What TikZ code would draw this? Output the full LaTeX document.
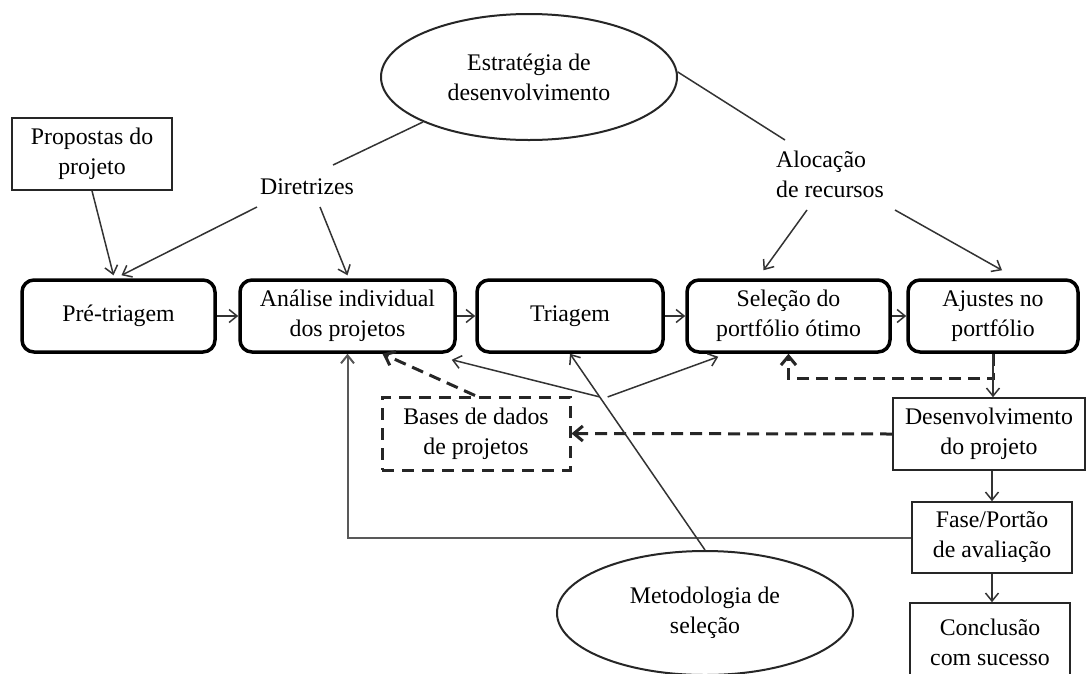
\documentclass[tikz,border=0pt]{standalone}
\usepackage{fontspec}
\setmainfont{Liberation Serif}
\usetikzlibrary{arrows.meta,shapes.geometric,calc}

\begin{document}
\begin{tikzpicture}[x=1pt,y=-1pt,
  every node/.style={font=\fontsize{23.8}{30}\selectfont, align=center, text=black},
  stage/.style={draw=black, line width=3.5pt, rounded corners=12pt, minimum height=72pt, inner sep=0pt},
  plainbox/.style={draw=black!85, line width=1.6pt, minimum height=72pt, inner sep=0pt},
  dbox/.style={draw=black!85, line width=3pt, dash pattern=on 12pt off 8pt, minimum width=188pt, minimum height=73pt, inner sep=0pt},
  oval/.style={ellipse, draw=black!85, line width=2pt, minimum width=296pt, minimum height=126pt, inner sep=0pt},
  lbl/.style={inner sep=2pt},
  link/.style={draw=black!80, line width=1.5pt},
  arr/.style={link, -{Straight Barb[length=8pt,width=13pt]}},
  darr/.style={draw=black!85, line width=3pt, dash pattern=on 12pt off 7pt, -{Straight Barb[length=9pt,width=15pt]}},
]
\useasboundingbox (0,0) rectangle (1087,673);
\clip (0,0) rectangle (1087,673);
\fill[white] (0,0) rectangle (1087,673);

% main process row
\node[stage, minimum width=193pt] (pre) at (118.5,316) {Pré-triagem};
\node[stage, minimum width=215pt] (ana) at (347.5,316) {Análise individual\\dos projetos};
\node[stage, minimum width=186pt] (tri) at (570,316) {Triagem};
\node[stage, minimum width=203pt] (sel) at (788.5,316) {Seleção do\\portfólio ótimo};
\node[stage, minimum width=170pt] (aju) at (993,316) {Ajustes no\\portfólio};

% other boxes
\node[plainbox, minimum width=160pt] (prop) at (92,154) {Propostas do\\projeto};
\node[dbox] (bases) at (476,433.5) {Bases de dados\\de projetos};
\node[plainbox, minimum width=192pt] (dev) at (989,434) {Desenvolvimento\\do projeto};
\node[plainbox, minimum width=160pt, minimum height=71pt] (fase) at (992,537.5) {Fase/Portão\\de avaliação};
\node[plainbox, minimum width=160pt, minimum height=78pt] (conc) at (990,642) {Conclusão\\com sucesso};

% ellipses and free labels
\node[oval] (est) at (529,77) {Estratégia de\\desenvolvimento};
\node[oval, minimum height=124pt] (met) at (705,613) {Metodologia de\\seleção};
\node[lbl] (dir) at (307,187) {Diretrizes};
\node[lbl, align=left] (aloc) at (830,174) {Alocação\\de recursos};

% strategy to its two outputs
\draw[link] (est.203) -- ($(dir.center)+(26,-22)$);
\draw[link] (est.2) -- ($(aloc.center)+(-45,-34)$);
\draw[arr] ($(dir.center)+(-50,20)$) -- ([xshift=3pt,yshift=3pt]pre.north);
\draw[arr] ($(dir.center)+(13,20)$) -- ([xshift=0pt,yshift=3pt]ana.north);
\draw[arr] ($(aloc.center)+(-23,36)$) -- ([xshift=-25pt,yshift=8pt]sel.north);
\draw[arr] ($(aloc.center)+(65,36)$) -- ([xshift=9pt,yshift=8pt]aju.north);
\draw[arr] (prop.south) -- ([xshift=-5pt,yshift=3pt]pre.north);

% main chain
\draw[arr] (pre) -- (ana);
\draw[arr] (ana) -- (tri);
\draw[arr] (tri) -- (sel);
\draw[arr] (sel) -- (aju);

% dashed feedback paths
\draw[darr] (aju.south) -- ++(0,25) -| (sel.south);
\draw[darr] (dev.west) -- (bases.east);
\draw[darr] ([xshift=-1pt]bases.north) -- ([xshift=35pt]ana.south);

% development chain
\draw[arr] (aju.south) -- (aju.south |- dev.north);
\draw[arr] (dev.south -| fase.north) -- (fase.north);
\draw[arr] (fase.south) -- (fase.south |- conc.north);
\draw[arr, draw=black!65, line width=2pt] (fase.west) -| (ana.south);

% selection methodology
\draw[arr] (met.north) -- (tri.south);
\coordinate (mx) at ($(met.north)!0.78!(tri.south)$);
\draw[arr] (mx) -- ([xshift=-5pt,yshift=-6pt]ana.south east);
\draw[arr] ([xshift=8pt]mx) -- ([xshift=33pt,yshift=-3pt]sel.south west);
\end{tikzpicture}
\end{document}
